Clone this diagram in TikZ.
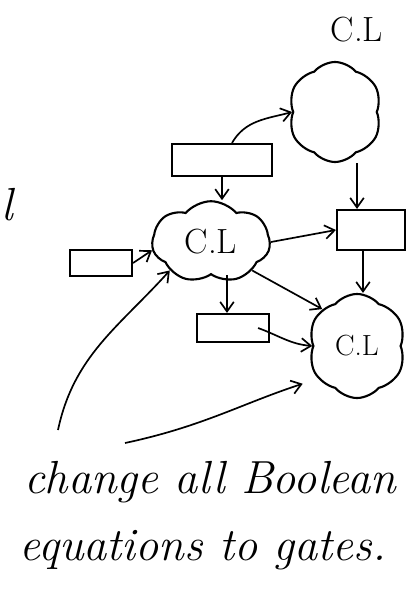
\documentclass[tikz,border=0pt]{standalone}
\usepackage{tikz}
\usetikzlibrary{positioning, shapes.symbols, arrows.meta}

\tikzset{
  blob/.style={cloud, draw, cloud puffs=6, cloud puff arc=100, aspect=1, inner sep=0pt, line width=1.5pt},
  reg/.style={rectangle, draw, line width=1.5pt, inner sep=0pt},
  wire/.style={line width=1.2pt, -{Straight Barb[length=2.4mm, width=3.4mm]}},
  hand/.style={font=\fontsize{33}{38}\selectfont\itshape}
}

\begin{document}
\begin{tikzpicture}[x=0.025cm, y=-0.025cm]
            \useasboundingbox (0,0) rectangle (420,592);

            % logic clouds
            \node[blob, minimum width=2.35cm, minimum height=2.5cm, shape border rotate=15] (cltop) at (335, 112) {};
            \node[font=\Huge] (cltoplbl) at (357, 30) {C.L};
            \node[blob, cloud puffs=7, minimum width=2.95cm, minimum height=1.75cm, font=\Huge] (clmid) at (211, 242) {C.L};
            \node[blob, minimum width=2.45cm, minimum height=2.6cm, font=\huge] (clbot) at (357, 346) {C.L};

            % registers
            \node[reg, minimum width=2.5cm, minimum height=0.8cm] (regtop) at (222, 160) {};
            \node[reg, minimum width=1.55cm, minimum height=0.65cm] (regleft) at (101, 263) {};
            \node[reg, minimum width=1.7cm, minimum height=1cm] (regright) at (371, 230) {};
            \node[reg, minimum width=1.8cm, minimum height=0.7cm] (regbot) at (233, 328) {};

            \node[hand, anchor=west, inner sep=0pt] (cut) at (1, 205) {l};

            \draw[wire] ([xshift=0.25cm]regtop.north) to[out=60, in=195] (cltop.west);
            \draw[wire] (regtop.south) -- (regtop.south |- clmid.north);
            \draw[wire] (regleft.east) -- (clmid.188);
            \draw[wire] ([xshift=0.55cm]cltop.south) -- ([xshift=0.55cm]cltop.south |- regright.north);
            \draw[wire] (clmid.east) -- (regright.west);
            \draw[wire] ([xshift=-0.2cm]regright.south) -- ([xshift=-0.2cm]regright.south |- clbot.north);
            \draw[wire] (clmid.south east) -- (clbot.north west);
            \draw[wire] ([xshift=0.4cm]clmid.south) -- ([xshift=0.4cm]clmid.south |- regbot.north);
            \draw[wire] ([xshift=-0.3cm]regbot.east) to[out=-20, in=175] (clbot.west);

            % pointers from the note
            \coordinate (p1) at (58, 430);
            \coordinate (p2) at (125, 443);
            \draw[wire] (p1) to[out=78, in=228] (clmid.south west);
            \draw[wire, shorten >=0.4cm] (p2) to[out=12, in=198] (clbot.220);

            \node[hand] (note1) at (210, 482) {change all Boolean};
            \node[hand] (note2) at (203, 550) {equations to gates.};
        \end{tikzpicture}
\end{document}
